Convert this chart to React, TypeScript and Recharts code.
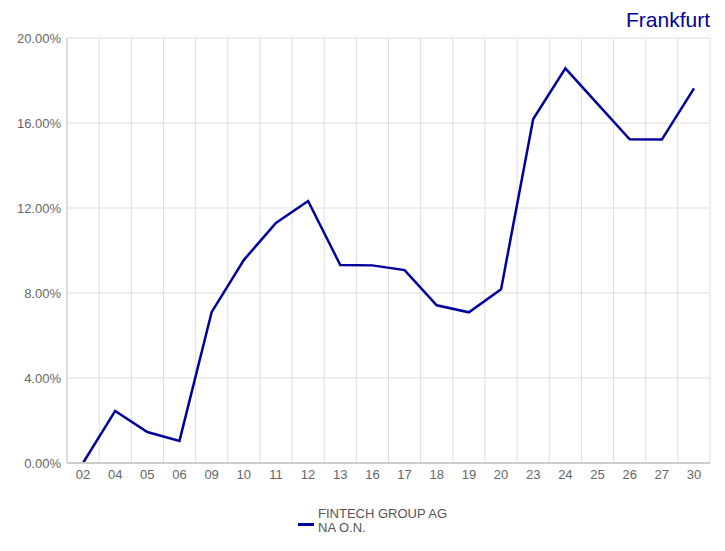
import { LineChart, Line, XAxis, YAxis, CartesianGrid } from "recharts"

const days = ["02", "04", "05", "06", "09", "10", "11", "12", "13", "16", "17", "18", "19", "20", "23", "24", "25", "26", "27", "30"]
const perf = [0, 2.45, 1.46, 1.04, 7.1, 9.55, 11.3, 12.33, 9.32, 9.3, 9.08, 7.42, 7.09, 8.17, 16.19, 18.57, 16.9, 15.23, 15.22, 17.63]
const yTicks = [0, 4, 8, 12, 16, 20]
const seriesName = ["FINTECH GROUP AG", "NA O.N."]
const title = "Frankfurt"

const BLUE = "#00009c"
const FONT = "'Liberation Sans', Arial, sans-serif"

const data = days.map((d, i) => ({ day: d, value: perf[i] }))

export default function App() {
  const n = days.length
  return (
    <div style={{ position: "absolute", left: 0, top: 0, width: 725, height: 551, background: "#fff", fontFamily: FONT }}>
      <div style={{ position: "absolute", right: 15, top: 8, fontSize: 21, color: BLUE }}>{title}</div>
      <LineChart width={725} height={551} data={data} margin={{ top: 38, right: 15, left: 0, bottom: 58 }}>
        <CartesianGrid
          stroke="#dddddd"
          verticalCoordinatesGenerator={({ offset }: any) =>
            Array.from({ length: n + 1 }, (_, i) => offset.left + (i * offset.width) / n)
          }
        />
        <XAxis
          dataKey="day"
          interval={0}
          padding={{ left: 16, right: 16 }}
          axisLine={{ stroke: "#cccccc", strokeWidth: 2 }}
          tickLine={false}
          tickSize={4}
          tick={{ fontSize: 13, fill: "#666", fontFamily: FONT }}
          tickMargin={3}
          height={30}
        />
        <YAxis
          domain={[0, 20]}
          ticks={yTicks}
          width={67}
          axisLine={{ stroke: "#dddddd", strokeWidth: 2 }}
          tickLine={false}
          tickSize={4}
          tick={{ fontSize: 13, fill: "#666", fontFamily: FONT }}
          tickFormatter={(v: number) => v.toFixed(2) + "%"}
        />
        <Line
          type="linear"
          dataKey="value"
          stroke={BLUE}
          strokeWidth={2.5}
          dot={false}
          isAnimationActive={false}
        />
      </LineChart>
      <div style={{ position: "absolute", left: 298, top: 507, display: "flex", alignItems: "center", fontSize: 13, color: "#555", lineHeight: "14px" }}>
        <span style={{ display: "inline-block", width: 16, height: 3, background: BLUE, marginRight: 4, marginTop: 6 }} />
        <span>
          {seriesName[0]}
          <br />
          {seriesName[1]}
        </span>
      </div>
    </div>
  )
}
